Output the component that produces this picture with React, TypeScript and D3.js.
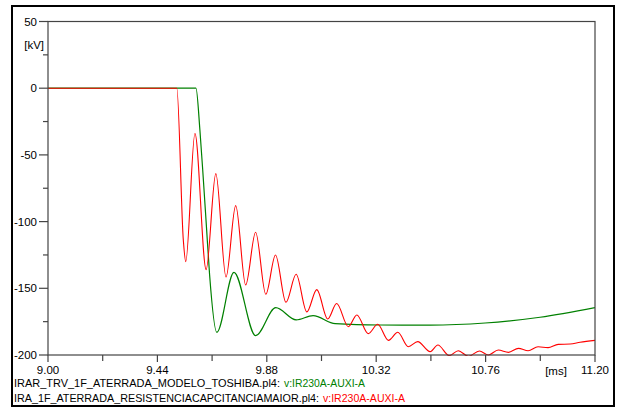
import React from "react";
import * as d3 from "d3";

const redTime = [9.0, 9.518, 9.5443, 9.554, 9.591, 9.636, 9.675, 9.716, 9.755, 9.795, 9.835, 9.876, 9.915, 9.957, 9.998, 10.041, 10.081, 10.125, 10.161, 10.208, 10.242, 10.288, 10.326, 10.369, 10.407, 10.449, 10.487, 10.537, 10.568, 10.614, 10.65, 10.691, 10.735, 10.771, 10.811, 10.852, 10.892, 10.931, 10.971, 11.011, 11.052, 11.1, 11.14, 11.2];
const redKV = [0, 0, -114, -130, -34, -136, -64, -141.5, -88, -147.5, -108, -154.5, -125, -160.5, -139.5, -167.7, -151, -173, -161.4, -178.8, -170, -184, -177, -189, -183, -193.8, -190, -197.5, -192.5, -200.5, -196.8, -201, -197, -200, -196.3, -198, -195, -196.8, -193.8, -194.5, -192, -191.8, -190.5, -189];

const greenTime = [9.0, 9.595, 9.611, 9.625, 9.638, 9.65, 9.679, 9.748, 9.835, 9.916, 9.998, 10.066, 10.155, 10.335, 10.537, 10.758, 10.979, 11.2];
const greenKV = [0, 0, -31.5, -69, -106, -140, -183, -138, -185.5, -164.5, -173.7, -170.5, -176.5, -177.5, -177.6, -176, -171.7, -164.5];

const yMajor = [50, 0, -50, -100, -150, -200];
const yMinor = [25, -25, -75, -125, -175];
const xMajor = [9.0, 9.44, 9.88, 10.32, 10.76, 11.2];
const xMinor = [9.22, 9.66, 10.1, 10.54, 10.98];

const legend = [
  { file: "IRAR_TRV_1F_ATERRADA_MODELO_TOSHIBA.pl4:", sig: "v:IR230A-AUXI-A", color: "#008000", fw: 266, sw: 81 },
  { file: "IRA_1F_ATERRADA_RESISTENCIACAPCITANCIAMAIOR.pl4:", sig: "v:IR230A-AUXI-A", color: "#ff0000", fw: 305, sw: 82 },
];

export default function App() {
  const W = 618, H = 408;
  const x = d3.scaleLinear().domain([9.0, 11.2]).range([48, 595]);
  const y = d3.scaleLinear().domain([-200, 50]).range([355, 21.5]);
  const line = d3.line<[number, number]>().x(d => x(d[0])).y(d => y(d[1])).curve(d3.curveMonotoneX);
  const red = line(redTime.map((t, i) => [t, redKV[i]]) as [number, number][]) || "";
  const green = line(greenTime.map((t, i) => [t, greenKV[i]]) as [number, number][]) || "";
  const font = "Liberation Sans, Arial, sans-serif";
  const axisColor = "#444";
  return (
    <svg width={W} height={H} style={{ position: "absolute", left: 0, top: 0, background: "#fff" }} fontFamily={font}>
      <rect x={0} y={0} width={W} height={H} fill="#fff" />
      <rect x={12} y={6} width={602} height={400} fill="none" stroke="#000" strokeWidth={2} />
      <defs>
        <clipPath id="plotclip">
          <rect x={48} y={21.5} width={547} height={334.5} />
        </clipPath>
      </defs>
      <g clipPath="url(#plotclip)">
        <path d={green} fill="none" stroke="#008000" strokeWidth={1.2} />
        <path d={red} fill="none" stroke="#ff0000" strokeWidth={1.1} />
      </g>
      <rect x={48} y={21.5} width={547} height={333.5} fill="none" stroke={axisColor} strokeWidth={1.2} />
      {yMajor.map(v => (
        <g key={"ym" + v}>
          <line x1={39} x2={48} y1={y(v)} y2={y(v)} stroke={axisColor} strokeWidth={1.2} />
          <text x={37} y={y(v)} dy="0.35em" textAnchor="end" fontSize={11.5} fill="#000">{v}</text>
        </g>
      ))}
      {yMinor.map(v => (
        <line key={"yn" + v} x1={43} x2={48} y1={y(v)} y2={y(v)} stroke={axisColor} strokeWidth={1.2} />
      ))}
      <text x={44} y={45} dy="0.35em" textAnchor="end" fontSize={11.5} fill="#000">[kV]</text>
      {xMajor.map(v => (
        <g key={"xm" + v}>
          <line x1={x(v)} x2={x(v)} y1={355} y2={362} stroke={axisColor} strokeWidth={1.2} />
          <text x={x(v)} y={370} dy="0.35em" textAnchor="middle" fontSize={11.5} fill="#000">{v.toFixed(2)}</text>
        </g>
      ))}
      {xMinor.map(v => (
        <line key={"xn" + v} x1={x(v)} x2={x(v)} y1={355} y2={361} stroke={axisColor} strokeWidth={1.2} />
      ))}
      <text x={556} y={371} dy="0.35em" textAnchor="middle" fontSize={11.5} fill="#000">[ms]</text>
      {legend.map((l, i) => (
        <g key={"lg" + i}>
          <text x={14} y={383 + i * 15} dy="0.35em" fontSize={11} fill="#000" textLength={l.fw} lengthAdjust="spacingAndGlyphs">{l.file}</text>
          <text x={14 + l.fw + 4} y={383 + i * 15} dy="0.35em" fontSize={11} fill={l.color} textLength={l.sw} lengthAdjust="spacingAndGlyphs">{l.sig}</text>
        </g>
      ))}
    </svg>
  );
}
